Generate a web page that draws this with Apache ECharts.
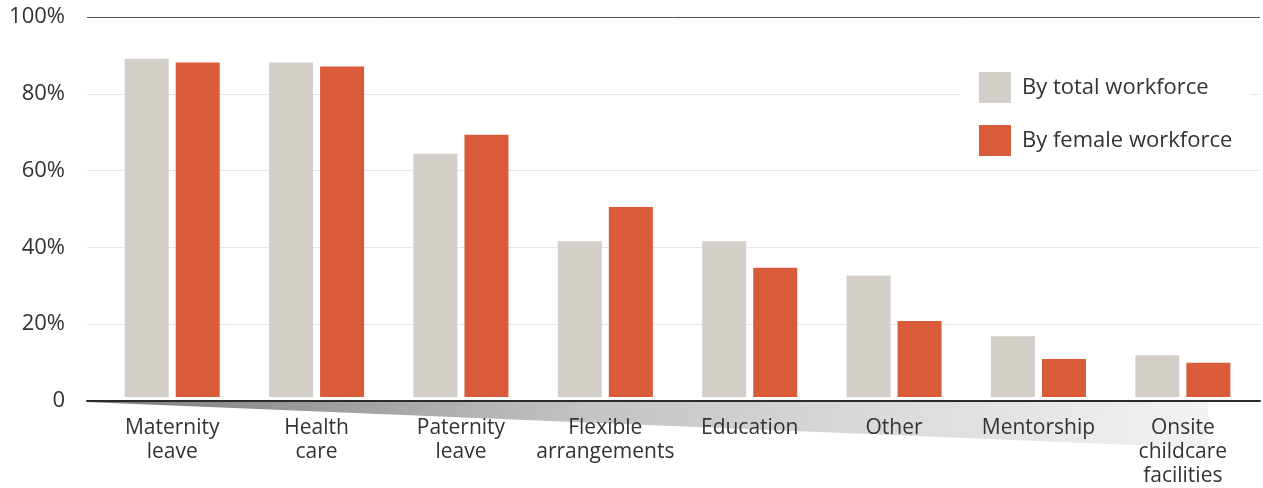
<!DOCTYPE html>
<html>
<head>
<meta charset="utf-8">
<script src="https://cdn.jsdelivr.net/npm/echarts@6/dist/echarts.min.js"></script>
<style>
html,body{margin:0;padding:0;background:#fff;}
#chart{width:1263px;height:488px;}
</style>
</head>
<body>
<div id="chart"></div>
<script>
const categories = ['Maternity\nleave', 'Health\ncare', 'Paternity\nleave', 'Flexible\narrangements', 'Education', 'Other', 'Mentorship', 'Onsite\nchildcare\nfacilities'];
const seriesNames = ['By total workforce', 'By female workforce'];
const totalWorkforce = [89, 88, 64, 41, 41, 32, 16, 11];
const femaleWorkforce = [88, 87, 69, 50, 34, 20, 10, 9];
const yTicks = [0, 20, 40, 60, 80, 100];

const FONT = '"Open Sans", "DejaVu Sans", sans-serif';
const chart = echarts.init(document.getElementById('chart'), null, {renderer: 'canvas'});

const option = {
  backgroundColor: '#ffffff',
  animation: false,
  textStyle: {fontFamily: FONT},
  grid: [
    {left: 87, right: 3, top: 17, bottom: 87, containLabel: false},
    {left: 100, right: 8, top: 17, bottom: 87, containLabel: false}
  ],
  graphic: [{
    type: 'polygon',
    z: -1,
    silent: true,
    shape: {points: [[87, 402], [1208, 402], [1208, 448]]},
    style: {
      fill: new echarts.graphic.LinearGradient(0, 0, 1, 1, [
        {offset: 0, color: '#7a7a7a'},
        {offset: 0.45, color: '#c4c4c4'},
        {offset: 1, color: '#f3f3f3'}
      ])
    }
  }],
  legend: {
    left: 960,
    top: 60,
    orient: 'vertical',
    backgroundColor: '#ffffff',
    padding: [12, 18, 14, 19],
    itemWidth: 32,
    itemHeight: 31,
    itemGap: 22,
    icon: 'rect',
    data: seriesNames,
    textStyle: {fontSize: 22, color: '#333333', fontFamily: FONT, padding: [0, 0, 0, 6]},
    z: 10
  },
  xAxis: [
    {
      type: 'value', gridIndex: 0, min: 0, max: 1,
      axisLine: {show: true, onZero: false, lineStyle: {color: '#2b2b2b', width: 2}},
      axisTick: {show: false}, axisLabel: {show: false}, splitLine: {show: false}
    },
    {
      type: 'category', gridIndex: 1, data: categories,
      axisLine: {show: false}, axisTick: {show: false},
      axisLabel: {
        interval: 0, margin: 19, fontSize: 21, lineHeight: 24,
        color: '#333333', fontFamily: FONT
      }
    }
  ],
  yAxis: [
    {
      type: 'value', gridIndex: 0, min: 0, max: 100, interval: 20,
      axisLine: {show: false}, axisTick: {show: false},
      axisLabel: {
        margin: 22, fontSize: 22, color: '#333333', fontFamily: FONT,
        formatter: v => (v === 0 ? '0' : v + '%')
      },
      splitLine: {
        show: true,
        lineStyle: {color: ['#e6e6e6', '#e6e6e6', '#e6e6e6', '#e6e6e6', '#e6e6e6', '#555555'], width: [1]}
      }
    },
    {
      type: 'value', gridIndex: 1, min: 0, max: 100, interval: 20,
      show: false, splitLine: {show: false}
    }
  ],
  series: [
    {
      name: seriesNames[0], type: 'bar', xAxisIndex: 1, yAxisIndex: 1,
      data: totalWorkforce, barWidth: 44, barGap: '16%',
      itemStyle: {color: '#d3cfc8'}
    },
    {
      name: seriesNames[1], type: 'bar', xAxisIndex: 1, yAxisIndex: 1,
      data: femaleWorkforce, barWidth: 44, barGap: '16%',
      itemStyle: {color: '#d95b3a'}
    }
  ]
};
chart.setOption(option);
</script>
</body>
</html>
